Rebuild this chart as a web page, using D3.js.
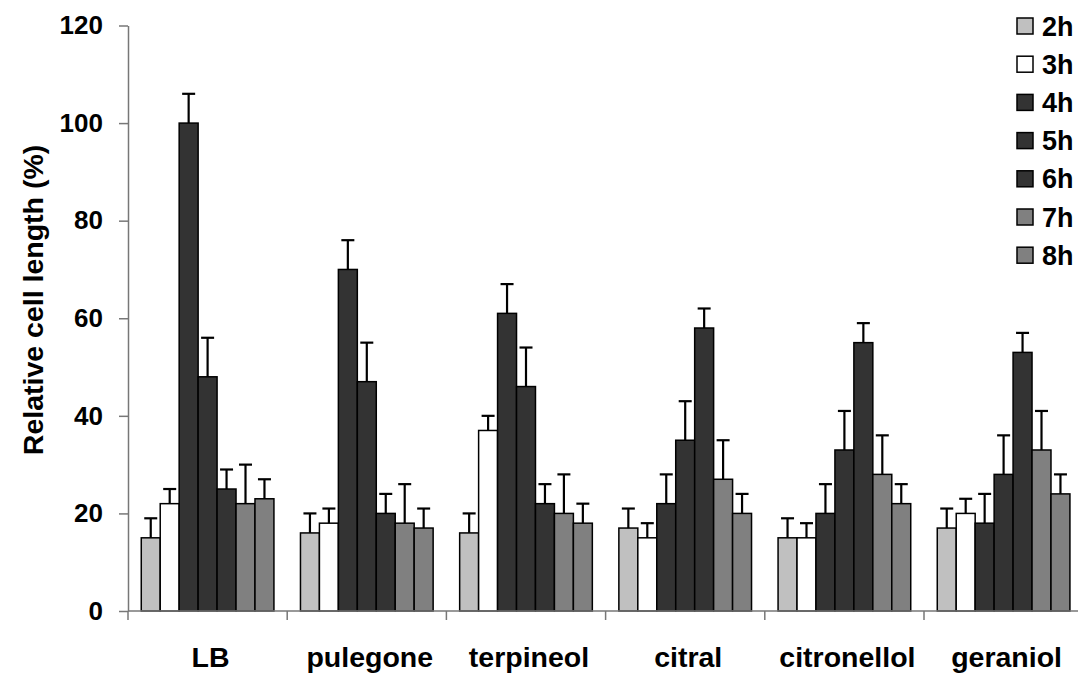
<!DOCTYPE html>
<html>
<head>
<meta charset="utf-8">
<script src="https://d3js.org/d3.v7.min.js"></script>
<style>
  body { margin: 0; background: #fff; }
  svg { display: block; font-family: "Liberation Sans", Arial, sans-serif; font-weight: bold; }
</style>
</head>
<body>
<svg id="chart" width="1078" height="673"></svg>
<script>
// categories and series
var categories = ["LB", "pulegone", "terpineol", "citral", "citronellol", "geraniol"];
var hours = ["2h", "3h", "4h", "5h", "6h", "7h", "8h"];
var hourColors = ["#c0c0c0", "#ffffff", "#333333", "#333333", "#333333", "#808080", "#808080"];

// mean values, one array per treatment, ordered by hour
var valLB          = [15, 22, 100, 48, 25, 22, 23];
var valPulegone    = [16, 18, 70, 47, 20, 18, 17];
var valTerpineol   = [16, 37, 61, 46, 22, 20, 18];
var valCitral      = [17, 15, 22, 35, 58, 27, 20];
var valCitronellol = [15, 15, 20, 33, 55, 28, 22];
var valGeraniol    = [17, 20, 18, 28, 53, 33, 24];

// upper error (SD), same order
var errLB          = [4, 3, 6, 8, 4, 8, 4];
var errPulegone    = [4, 3, 6, 8, 4, 8, 4];
var errTerpineol   = [4, 3, 6, 8, 4, 8, 4];
var errCitral      = [4, 3, 6, 8, 4, 8, 4];
var errCitronellol = [4, 3, 6, 8, 4, 8, 4];
var errGeraniol    = [4, 3, 6, 8, 4, 8, 4];

var yTicks = [0, 20, 40, 60, 80, 100, 120];

var values = [valLB, valPulegone, valTerpineol, valCitral, valCitronellol, valGeraniol];
var errors = [errLB, errPulegone, errTerpineol, errCitral, errCitronellol, errGeraniol];

var rows = [];
categories.forEach(function(c, i) {
  hours.forEach(function(h, j) {
    rows.push({cat: c, hour: h, value: values[i][j], err: errors[i][j], color: hourColors[j]});
  });
});

var svg = d3.select("#chart");
var plotLeft = 128, plotBottom = 611, plotTop = 25.5;
var catStep = 159.2;

var x0 = d3.scaleBand().domain(categories)
    .range([plotLeft, plotLeft + catStep * categories.length])
    .padding(0);
var x1 = d3.scaleBand().domain(hours)
    .range([0, x0.bandwidth()])
    .paddingInner(0).paddingOuter(0.7);
var y = d3.scaleLinear().domain([0, 120]).range([plotBottom, plotTop]);

var axisColor = "#777";

// bars
var g = svg.append("g");
g.selectAll("rect.bar").data(rows).enter().append("rect")
  .attr("class", "bar")
  .attr("x", function(d) { return x0(d.cat) + x1(d.hour); })
  .attr("y", function(d) { return y(d.value); })
  .attr("width", x1.bandwidth())
  .attr("height", function(d) { return y(0) - y(d.value); })
  .attr("fill", function(d) { return d.color; })
  .attr("stroke", "#000")
  .attr("stroke-width", 1.5);

// error bars (upper only)
var cap = 6.5;
function cx(d) { return x0(d.cat) + x1(d.hour) + x1.bandwidth() / 2; }
var eb = g.selectAll("g.err").data(rows).enter().append("g").attr("class", "err")
  .attr("stroke", "#000").attr("stroke-width", 2.2);
eb.append("line")
  .attr("x1", cx).attr("x2", cx)
  .attr("y1", function(d) { return y(d.value); })
  .attr("y2", function(d) { return y(d.value + d.err); });
eb.append("line")
  .attr("x1", function(d) { return cx(d) - cap; })
  .attr("x2", function(d) { return cx(d) + cap; })
  .attr("y1", function(d) { return y(d.value + d.err); })
  .attr("y2", function(d) { return y(d.value + d.err); });

// y axis
var yAxis = svg.append("g")
  .attr("transform", "translate(" + plotLeft + ",0)")
  .call(d3.axisLeft(y).tickValues(yTicks).tickSize(9).tickPadding(16).tickSizeOuter(0));
yAxis.select(".domain").attr("stroke", axisColor).attr("stroke-width", 1.5);
yAxis.selectAll(".tick line").attr("stroke", axisColor).attr("stroke-width", 1.5);
yAxis.selectAll(".tick text")
  .attr("fill", "#000").style("font-size", "26px").style("font-weight", "bold")
  .style("font-family", "'Liberation Sans', Arial, sans-serif");

// x axis: baseline, boundary ticks and category labels
svg.append("line")
  .attr("x1", plotLeft).attr("x2", 1078)
  .attr("y1", y(0)).attr("y2", y(0))
  .attr("stroke", axisColor).attr("stroke-width", 1.5);
svg.selectAll("line.xtick").data(categories).enter().append("line")
  .attr("class", "xtick")
  .attr("x1", function(d) { return x0(d); }).attr("x2", function(d) { return x0(d); })
  .attr("y1", y(0)).attr("y2", y(0) + 9)
  .attr("stroke", axisColor).attr("stroke-width", 1.5);
svg.selectAll("text.xlab").data(categories).enter().append("text")
  .attr("class", "xlab")
  .attr("x", function(d) { return x0(d) + x0.bandwidth() / 2 + 3; })
  .attr("y", 667)
  .attr("text-anchor", "middle")
  .style("font-size", "28.5px")
  .text(function(d) { return d; });

// y title
svg.append("text")
  .attr("transform", "translate(43," + 300 + ") rotate(-90)")
  .attr("text-anchor", "middle")
  .style("font-size", "28.5px")
  .text("Relative cell length (%)");

// legend
var leg = svg.selectAll("g.leg").data(hours).enter().append("g")
  .attr("class", "leg")
  .attr("transform", function(d, i) { return "translate(1017," + (26 + i * 38.2) + ")"; });
leg.append("rect")
  .attr("x", 0).attr("y", -8).attr("width", 16).attr("height", 16)
  .attr("fill", function(d, i) { return hourColors[i]; })
  .attr("stroke", "#000").attr("stroke-width", 1.5);
leg.append("text")
  .attr("x", 25).attr("y", 9.5)
  .style("font-size", "27px")
  .text(function(d) { return d; });
</script>
</body>
</html>
